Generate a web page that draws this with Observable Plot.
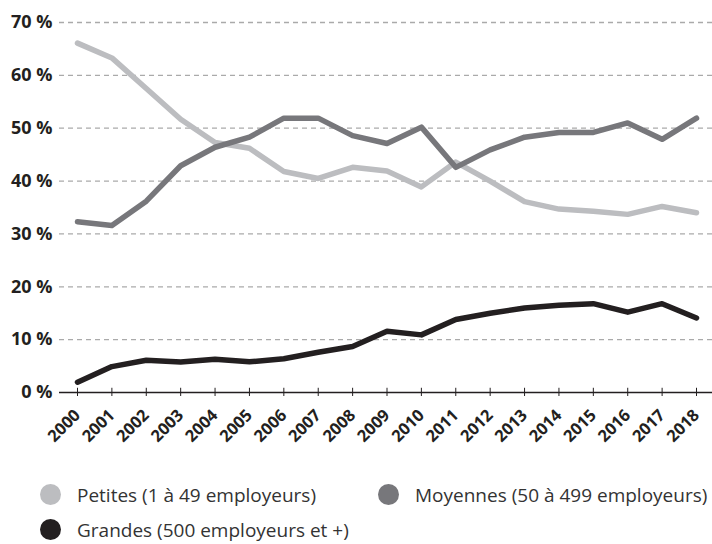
<!DOCTYPE html>
<html><head><meta charset="utf-8">
<script src="https://cdn.jsdelivr.net/npm/d3@7"></script>
<script src="https://cdn.jsdelivr.net/npm/@observablehq/plot@0.6"></script>
<style>
body{margin:0;background:#fff;font-family:"Open Sans",sans-serif;}
#legend{position:relative;height:84px;}
.item{position:absolute;display:flex;align-items:center;font-size:19px;color:#333;white-space:nowrap;line-height:20px;}
.sw{width:21px;height:21px;border-radius:50%;margin-right:16px;flex:none;}
</style></head><body><div id="chart"></div><div id="legend"></div>
<script>
const years = [2000,2001,2002,2003,2004,2005,2006,2007,2008,2009,2010,2011,2012,2013,2014,2015,2016,2017,2018];
const petites = [66.1,63.3,57.5,51.7,47.3,46.2,41.8,40.5,42.6,41.9,38.9,43.6,40.0,36.1,34.7,34.3,33.7,35.2,34.0];
const moyennes = [32.3,31.6,36.2,42.9,46.4,48.3,51.9,51.9,48.6,47.1,50.2,42.6,45.9,48.3,49.2,49.2,51.0,47.9,51.9];
const grandes = [1.95,4.9,6.1,5.75,6.3,5.8,6.4,7.6,8.7,11.6,10.9,13.8,15.0,16.0,16.5,16.8,15.2,16.8,14.1];
const seriesNames = ["Petites (1 à 49 employeurs)","Moyennes (50 à 499 employeurs)","Grandes (500 employeurs et +)"];
const seriesColors = ["#bcbdc0","#77777b","#231f20"];
const yTicks = [0,10,20,30,40,50,60,70];

const allSeries = [petites, moyennes, grandes];
const data = allSeries.flatMap((vals, i) => years.map((y, j) => ({year: y, value: vals[j], series: seriesNames[i]})));

const chart = Plot.plot({
  width: 712,
  height: 460,
  marginLeft: 59,
  marginRight: 0,
  marginTop: 22,
  marginBottom: 68,
  insetLeft: 18,
  insetRight: 16,
  style: {fontFamily: '"Open Sans", sans-serif', color: "#231f20"},
  x: {domain: [years[0], years[years.length-1]]},
  y: {domain: [0, 70]},
  color: {domain: seriesNames, range: seriesColors},
  marks: [
    Plot.ruleY(yTicks.filter(d => d > 0), {stroke: "#aaaaaa", strokeWidth: 1.3, strokeDasharray: "5,4"}),
    Plot.axisY({ticks: yTicks, tickSize: 0, tickPadding: 7, tickFormat: d => d + " %", fontSize: 18, fontWeight: "bold", label: null}),
    Plot.axisX({ticks: years, tickFormat: d => String(d), tickRotate: -45, tickSize: 4, tickPadding: 16, fontSize: 16.5, fontWeight: "bold", label: null, stroke: "#231f20"}),
    Plot.ruleX(years, {x: d => d, y1: 0, y2: 0.8, stroke: "#231f20"}),
    Plot.ruleY([0], {stroke: "#231f20", strokeWidth: 1.5}),
    Plot.line(data, {x: "year", y: "value", z: "series", stroke: "series", strokeWidth: 5.5, strokeLinecap: "round", strokeLinejoin: "round"})
  ]
});
document.getElementById("chart").appendChild(chart);

const legend = document.getElementById("legend");
const pos = [{left: 40, top: 24}, {left: 378, top: 24}, {left: 40, top: 59}];
seriesNames.forEach((name, i) => {
  const it = document.createElement("div");
  it.className = "item";
  it.style.left = pos[i].left + "px";
  it.style.top = pos[i].top + "px";
  it.innerHTML = `<span class="sw" style="background:${seriesColors[i]}"></span><span>${name}</span>`;
  legend.appendChild(it);
});
</script></body></html>
